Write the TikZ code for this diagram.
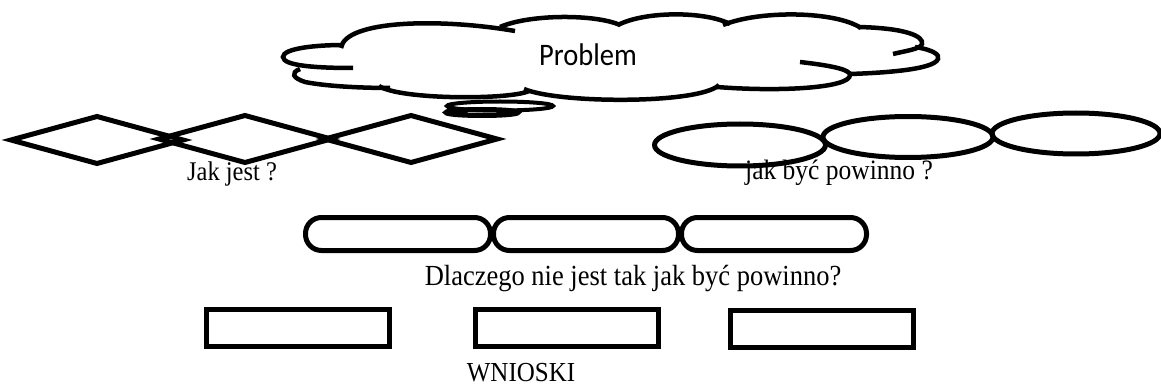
\documentclass[tikz,border=0pt]{standalone}
\usepackage{fontspec}
\setmainfont{Liberation Serif}
\newfontfamily\cloudfont{Carlito}
\usetikzlibrary{shapes.geometric}
\newcommand\tall[1]{\scalebox{1}[1.1]{#1}}
\begin{document}
\begin{tikzpicture}[x=1pt,y=-1pt,
  outline/.style={draw=black,line width=5pt,inner sep=0pt,outer sep=0pt},
  rhomb/.style={outline,diamond,minimum width=172pt,minimum height=47pt},
  oval/.style={outline,ellipse},
  pill/.style={outline,rectangle,rounded corners=16pt,minimum width=185pt,minimum height=33pt},
  box/.style={outline,rectangle,minimum width=183pt,minimum height=37pt},
  caption/.style={inner sep=0pt,outer sep=0pt,anchor=base},
  cloudline/.style={line width=4.5pt}]
\useasboundingbox (0,0) rectangle (1161,390);

% captions (drawn first so the outlines lie on top)
\node[caption,font=\fontsize{24.5}{29}\selectfont] (jakjest) at (232,181) {\tall{Jak jest ?}};
\node[caption,font=\fontsize{25.5}{30}\selectfont] (jakbyc) at (839,180) {\tall{jak być powinno ?}};
\node[caption,font=\fontsize{26.5}{31}\selectfont] (dlaczego) at (633,285) {\tall{Dlaczego nie jest tak jak być powinno?}};
\node[caption,font=\fontsize{25}{30}\selectfont] (wnioski) at (521,381) {\tall{WNIOSKI}};

% cloud
\draw[cloudline] (353,68) .. controls (318,68) and (283,66) .. (283,57)
                 .. controls (283,48) and (318,45) .. (343,45);
\draw[cloudline] (341,48) .. controls (345,20) and (440,18) .. (515,31);
\draw[cloudline] (500,27) .. controls (530,14) and (595,14) .. (620,25);
\draw[cloudline] (618,25) .. controls (645,11) and (705,11) .. (730,24);
\draw[cloudline] (723,25) .. controls (760,10) and (835,11) .. (861,28);
\draw[cloudline] (858,27) .. controls (905,28) and (924,36) .. (922,44)
                 .. controls (921,49) and (905,51) .. (893,54);
\draw[cloudline] (915,47) .. controls (934,50) and (940,55) .. (938,59)
                 .. controls (934,70) and (880,73) .. (850,74);
\draw[cloudline] (800,62) .. controls (835,66) and (850,70) .. (850,75)
                 .. controls (850,88) and (780,92) .. (717,87);
\draw[cloudline] (719,85) .. controls (700,104) and (560,104) .. (524,89);
\draw[cloudline] (529,91) .. controls (510,100) and (400,100) .. (379,86);
\draw[cloudline] (300,69) .. controls (290,73) and (293,78) .. (305,82)
                 .. controls (330,87) and (370,88) .. (390,88);
\node[caption,font=\cloudfont\fontsize{28.5}{34}\selectfont] (problem) at (588,66) {\tall{Problem}};

% thought bubbles under the cloud
\node[oval,line width=4pt,minimum width=106pt,minimum height=9pt] (bub1) at (500,106) {};
\node[oval,line width=5pt,minimum width=72pt,minimum height=6pt] (bub2) at (482,112.5) {};

% diamonds
\node[rhomb] (d1) at (97,140) {};
\node[rhomb] (d2) at (245,139) {};
\node[rhomb] (d3) at (411,139) {};

% ellipses
\node[oval,minimum width=171pt,minimum height=42pt] (e1) at (740,145) {};
\node[oval,minimum width=170pt,minimum height=41pt] (e2) at (908,137) {};
\node[oval,minimum width=168pt,minimum height=41pt] (e3) at (1076,133.5) {};

% rounded bars
\node[pill] (p1) at (398,234) {};
\node[pill] (p2) at (586,234) {};
\node[pill] (p3) at (774,234) {};

% rectangles
\node[box] (r1) at (298,328) {};
\node[box] (r2) at (566.5,328) {};
\node[box] (r3) at (821.5,329) {};
\end{tikzpicture}
\end{document}
